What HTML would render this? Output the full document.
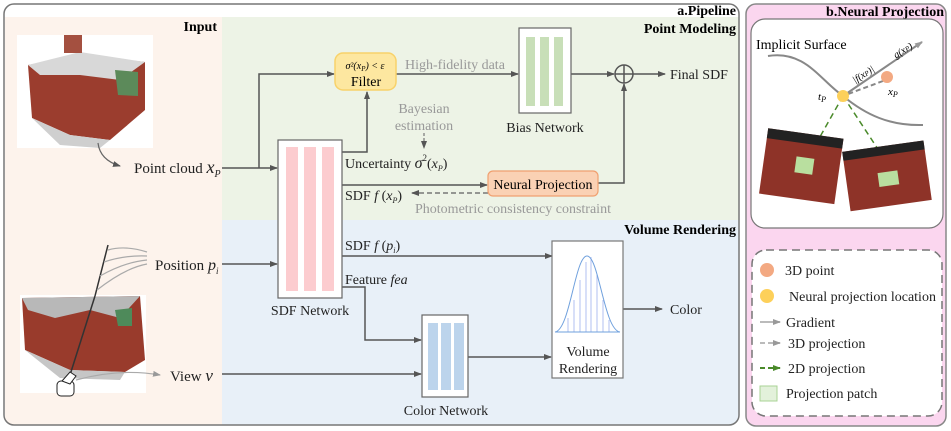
<!DOCTYPE html>
<html><head><meta charset="utf-8"><style>
html,body{margin:0;padding:0;background:#fff;}
svg{display:block;font-family:"Liberation Serif",serif;}
</style></head><body>
<svg width="951" height="431" viewBox="0 0 951 431" xmlns="http://www.w3.org/2000/svg">
<defs>
<marker id="a" markerWidth="8" markerHeight="8" refX="7" refY="4" orient="auto" markerUnits="userSpaceOnUse"><path d="M0,1 L8,4 L0,7 Z" fill="#555"/></marker>
<marker id="ag" markerWidth="8" markerHeight="8" refX="7" refY="4" orient="auto" markerUnits="userSpaceOnUse"><path d="M0,1 L8,4 L0,7 Z" fill="#999"/></marker>
<marker id="agr" markerWidth="8" markerHeight="8" refX="7" refY="4" orient="auto" markerUnits="userSpaceOnUse"><path d="M0,1 L8,4 L0,7 Z" fill="#4a8a2a"/></marker>
<clipPath id="lp"><rect x="4" y="4" width="735" height="421" rx="10"/></clipPath>
</defs>
<g clip-path="url(#lp)">
<rect x="4" y="4" width="735" height="421" fill="#fff"/>
<rect x="5" y="17" width="217" height="408" fill="#fdf3ec"/>
<rect x="222" y="17" width="517" height="203" fill="#edf3e6"/>
<rect x="222" y="220" width="517" height="205" fill="#e8f0f8"/>
</g>
<rect x="4" y="4" width="735" height="421" rx="10" fill="none" stroke="#777" stroke-width="1.5"/>
<g font-weight="bold" font-size="14" text-anchor="end">
<text x="736" y="15">a.Pipeline</text>
<text x="736" y="33">Point Modeling</text>
<text x="217" y="31">Input</text>
<text x="736" y="234">Volume Rendering</text>
</g>
<rect x="17" y="35" width="136" height="113" fill="#fff"/>
<polygon points="28,65 85,55 145,62 145,110 110,140 70,135 32,118" fill="#9b3d2e"/>
<polygon points="28,65 80,52 145,62 120,80 80,75 40,75" fill="#d8d8d8"/>
<polygon points="115,70 138,72 138,96 118,95" fill="#5c8a5a"/>
<rect x="64" y="35" width="18" height="18" fill="#a45040"/>
<polygon points="32,118 70,135 110,140 100,148 60,145" fill="#cfcfcf"/>
<path d="M98 143 Q100 160 120 166" fill="none" stroke="#666" stroke-width="1.2" marker-end="url(#a)"/>
<rect x="20" y="295" width="126" height="98" fill="#fff"/>
<polygon points="22,298 140,296 145,360 125,372 70,370 25,350" fill="#993b2c"/>
<polygon points="22,298 140,296 120,318 90,310 55,318 28,310" fill="#b8b8b8"/>
<polygon points="115,310 132,308 132,326 118,326" fill="#4e8a5a"/>
<polygon points="25,350 70,370 125,372 120,380 60,378" fill="#c6c6c6"/>
<line x1="108" y1="245" x2="95" y2="296" stroke="#333" stroke-width="1.5"/>
<line x1="95" y1="296" x2="70" y2="375" stroke="#333" stroke-width="1.5"/>
<g fill="none" stroke="#aaa" stroke-width="1.2">
<path d="M108 250 Q125 245 147 252"/><path d="M104 262 Q125 255 147 256"/><path d="M100 276 Q125 262 147 260"/><path d="M97 290 Q125 268 147 264"/>
</g>
<rect x="57" y="381" width="17" height="15" rx="4" fill="#fff" stroke="#222"/>
<polygon points="62,381 70,372 76,376 70,384" fill="#fff" stroke="#222"/>
<path d="M76 380 Q120 368 160 375" fill="none" stroke="#aaa" stroke-width="1.2" marker-end="url(#ag)"/>
<g font-size="15" fill="#222">
<text x="134" y="173">Point cloud <tspan font-style="italic" font-size="18">x</tspan><tspan font-style="italic" font-size="10" dy="4">P</tspan></text>
<text x="155" y="270">Position <tspan font-style="italic" font-size="16">p</tspan><tspan font-style="italic" font-size="9" dy="4">i</tspan></text>
<text x="170" y="381">View <tspan font-style="italic" font-size="17">v</tspan></text>
</g>
<g stroke="#555" stroke-width="1.5" fill="none">
<line x1="222" y1="168" x2="277" y2="168" marker-end="url(#a)"/>
<polyline points="259,168 259,74 334,74" marker-end="url(#a)"/>
<polyline points="342,152 367,152 367,92" marker-end="url(#a)"/>
<line x1="396" y1="74" x2="518" y2="74" marker-end="url(#a)"/>
<line x1="571" y1="74" x2="614" y2="74" marker-end="url(#a)"/>
<line x1="633" y1="74" x2="665" y2="74" marker-end="url(#a)"/>
<line x1="342" y1="185" x2="487" y2="185" marker-end="url(#a)"/>
<polyline points="598,183 624,183 624,84" marker-end="url(#a)"/>
<line x1="222" y1="264" x2="277" y2="264" marker-end="url(#a)"/>
<line x1="342" y1="256" x2="552" y2="256" marker-end="url(#a)"/>
<polyline points="342,287 365,287 365,340 421,340" marker-end="url(#a)"/>
<line x1="222" y1="374" x2="421" y2="374" marker-end="url(#a)"/>
<line x1="468" y1="357" x2="551" y2="357" marker-end="url(#a)"/>
<line x1="623" y1="309" x2="662" y2="309" marker-end="url(#a)"/>
</g>
<line x1="488" y1="193" x2="412" y2="193" stroke="#777" stroke-width="1.5" stroke-dasharray="5,3" marker-end="url(#a)"/>
<line x1="424" y1="133" x2="424" y2="148" stroke="#777" stroke-width="1.2" stroke-dasharray="3,2" marker-end="url(#a)"/>
<circle cx="624" cy="74" r="9" fill="none" stroke="#555" stroke-width="1.5"/>
<line x1="615" y1="74" x2="633" y2="74" stroke="#555" stroke-width="1.5"/><line x1="624" y1="65" x2="624" y2="83" stroke="#555" stroke-width="1.5"/>
<rect x="335" y="53" width="61" height="37" rx="8" fill="#fde7a0" stroke="#f8d26a" stroke-width="1.5"/>
<text x="365" y="69" font-size="10" text-anchor="middle" font-style="italic">σ²(x<tspan font-size="7" dy="2">P</tspan><tspan dy="-2">) &lt; ε</tspan></text>
<text x="366" y="86" font-size="14" text-anchor="middle">Filter</text>
<rect x="519" y="28" width="52" height="85" fill="#fff" stroke="#666" stroke-width="1.2"/>
<rect x="526" y="37" width="9" height="69" fill="#c8dfb8"/><rect x="540" y="37" width="9" height="69" fill="#c8dfb8"/><rect x="554" y="37" width="9" height="69" fill="#c8dfb8"/>
<rect x="278" y="140" width="64" height="158" fill="#fff" stroke="#666" stroke-width="1.2"/>
<rect x="286" y="147" width="12" height="144" fill="#fccccf"/><rect x="304" y="147" width="12" height="144" fill="#fccccf"/><rect x="322" y="147" width="12" height="144" fill="#fccccf"/>
<rect x="488" y="171" width="110" height="25" rx="5" fill="#fad1b4" stroke="#f0a070" stroke-width="1.2"/>
<text x="543" y="189" font-size="14" text-anchor="middle">Neural Projection</text>
<rect x="422" y="315" width="46" height="82" fill="#fff" stroke="#666" stroke-width="1.2"/>
<rect x="428" y="323" width="10" height="67" fill="#bcd4ec"/><rect x="441" y="323" width="10" height="67" fill="#bcd4ec"/><rect x="454" y="323" width="10" height="67" fill="#bcd4ec"/>
<rect x="552" y="241" width="71" height="137" fill="#fff" stroke="#777" stroke-width="1.2"/>
<g stroke="#9fb0ee" stroke-width="0.8"><line x1="568" y1="332" x2="568" y2="318"/><line x1="574" y1="332" x2="574" y2="300"/><line x1="580" y1="332" x2="580" y2="280"/><line x1="586" y1="332" x2="586" y2="262"/><line x1="591" y1="332" x2="591" y2="257"/><line x1="597" y1="332" x2="597" y2="275"/><line x1="603" y1="332" x2="603" y2="300"/><line x1="609" y1="332" x2="609" y2="320"/></g>
<line x1="555" y1="332" x2="620" y2="332" stroke="#6fa0dd" stroke-width="1"/>
<path d="M555 332 C570 330 575 256 587 256 C599 256 604 330 620 332" fill="none" stroke="#6fa0dd" stroke-width="1"/>
<g font-size="14" fill="#222" text-anchor="middle">
<text x="588" y="356">Volume</text><text x="588" y="373">Rendering</text>
<text x="545" y="132">Bias Network</text>
<text x="310" y="315">SDF Network</text>
<text x="446" y="415">Color Network</text>
</g>
<g font-size="14" fill="#222">
<text x="670" y="79">Final SDF</text>
<text x="670" y="314">Color</text>
<text x="345" y="168">Uncertainty <tspan font-style="italic" font-size="16">σ</tspan><tspan font-size="9" dy="-7">2</tspan><tspan dy="7">(</tspan><tspan font-style="italic">x</tspan><tspan font-style="italic" font-size="8" dy="3">P</tspan><tspan dy="-3">)</tspan></text>
<text x="345" y="200">SDF <tspan font-style="italic">f</tspan> (<tspan font-style="italic">x</tspan><tspan font-style="italic" font-size="8" dy="3">P</tspan><tspan dy="-3">)</tspan></text>
<text x="345" y="250">SDF <tspan font-style="italic">f</tspan> (<tspan font-style="italic">p</tspan><tspan font-style="italic" font-size="8" dy="3">i</tspan><tspan dy="-3">)</tspan></text>
<text x="345" y="284">Feature <tspan font-style="italic">fea</tspan></text>
</g>
<g font-size="14" fill="#999">
<text x="405" y="69">High-fidelity data</text>
<text x="424" y="113" text-anchor="middle">Bayesian</text>
<text x="424" y="130" text-anchor="middle">estimation</text>
<text x="415" y="213">Photometric consistency constraint</text>
</g>
<rect x="746" y="4" width="200" height="422" rx="10" fill="#fbd6ef" stroke="#888" stroke-width="1.5"/>
<text x="944" y="16" font-size="14" font-weight="bold" text-anchor="end">b.Neural Projection</text>
<rect x="751" y="19" width="192" height="209" rx="14" fill="#fff" stroke="#777" stroke-width="1.2"/>
<text x="756" y="49" font-size="14">Implicit Surface</text>
<path d="M768 56 C805 50 820 80 843 96 C866 115 890 126 923 125" fill="none" stroke="#888" stroke-width="2"/>
<line x1="843" y1="96" x2="922" y2="42" stroke="#888" stroke-width="2" marker-end="url(#ag)"/>
<line x1="883" y1="81" x2="848" y2="94" stroke="#888" stroke-width="2" stroke-dasharray="5,3"/>
<line x1="843" y1="96" x2="808" y2="158" stroke="#4a8a2a" stroke-width="1.5" stroke-dasharray="6,4"/>
<line x1="843" y1="96" x2="893" y2="172" stroke="#4a8a2a" stroke-width="1.5" stroke-dasharray="6,4"/>
<g transform="rotate(8 800 168)"><rect x="763" y="133" width="76" height="66" fill="#8e3328"/><rect x="763" y="133" width="76" height="10" fill="#222"/><rect x="795" y="157" width="18" height="16" fill="#b9df9f"/></g>
<g transform="rotate(-8 886 176)"><rect x="846" y="146" width="82" height="60" fill="#8e3328"/><rect x="846" y="146" width="82" height="9" fill="#222"/><rect x="878" y="172" width="20" height="14" fill="#b9df9f"/></g>
<circle cx="843" cy="96" r="6" fill="#fdd05a"/>
<circle cx="887" cy="77" r="6" fill="#f3a982"/>
<text x="818" y="100" font-size="11" font-style="italic">t<tspan font-size="8" dy="2">P</tspan></text>
<text x="888" y="95" font-size="11" font-style="italic">x<tspan font-size="8" dy="2">P</tspan></text>
<text x="850" y="78" font-size="10" font-style="italic" transform="rotate(-32 862 72)">|f(x<tspan font-size="7">P</tspan>)|</text>
<text x="892" y="55" font-size="10" font-style="italic" transform="rotate(-32 900 50)">g(x<tspan font-size="7">P</tspan>)</text>
<rect x="752" y="250" width="190" height="166" rx="14" fill="#fff" stroke="#777" stroke-width="1.5" stroke-dasharray="8,5"/>
<circle cx="767" cy="270" r="7" fill="#f3a982"/>
<circle cx="767" cy="296" r="7" fill="#fdd05a"/>
<line x1="760" y1="322" x2="780" y2="322" stroke="#bbb" stroke-width="2" marker-end="url(#ag)"/>
<line x1="760" y1="343" x2="780" y2="343" stroke="#bbb" stroke-width="2" stroke-dasharray="5,3" marker-end="url(#ag)"/>
<line x1="760" y1="368" x2="780" y2="368" stroke="#4a8a2a" stroke-width="2" stroke-dasharray="5,3" marker-end="url(#agr)"/>
<rect x="760" y="386" width="17" height="15" fill="#e3f1db" stroke="#a9d394"/>
<g font-size="14" fill="#222">
<text x="785" y="275">3D point</text>
<text x="789" y="301">Neural projection location</text>
<text x="786" y="327">Gradient</text>
<text x="788" y="348">3D projection</text>
<text x="788" y="373">2D projection</text>
<text x="786" y="398">Projection patch</text>
</g>
</svg>
</body></html>
